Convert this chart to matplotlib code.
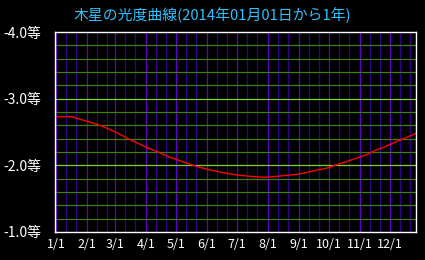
import matplotlib
matplotlib.use("Agg")
import matplotlib.pyplot as plt

plt.rcParams['font.family'] = ['Noto Sans CJK JP', 'DejaVu Sans']

title = "木星の光度曲線(2014年01月01日から1年)"
# day-of-year (0 = Jan 1) and magnitude
days = [0, 16, 22, 32, 42, 52, 62, 72, 82, 92, 102, 112, 122, 134, 144, 154,
        164, 174, 184, 194, 209, 221, 231, 241, 250, 260, 270, 280, 290, 300,
        310, 320, 330, 340, 350, 360]
mags = [-2.73, -2.73, -2.70, -2.656, -2.61, -2.55, -2.48, -2.40, -2.33, -2.26,
        -2.20, -2.13, -2.08, -2.015, -1.97, -1.93, -1.90, -1.87, -1.85, -1.835,
        -1.82, -1.835, -1.85, -1.865, -1.89, -1.925, -1.955, -2.005, -2.054,
        -2.105, -2.155, -2.23, -2.285, -2.355, -2.415, -2.48]
month_labels = ["1/1", "2/1", "3/1", "4/1", "5/1", "6/1", "7/1", "8/1",
                "9/1", "10/1", "11/1", "12/1"]
month_days = [0, 31, 59, 90, 120, 151, 181, 212, 243, 273, 304, 334]
y_ticks = [-4.0, -3.0, -2.0, -1.0]
y_labels = ["-4.0等", "-3.0等", "-2.0等", "-1.0等"]
minor_mags = [-3.8, -3.6, -3.4, -3.2, -2.8, -2.6, -2.4, -2.2, -1.8, -1.6, -1.4, -1.2]

fig = plt.figure(figsize=(4.25, 2.6), dpi=100, facecolor="black")
ax = fig.add_axes([55/425, 28/260, 361/425, 200/260], facecolor="black")
ax.set_xlim(-1, 360)
ax.set_ylim(-1.0, -4.0)

lw = 0.9
for md in month_days:
    ax.axvline(md, color="#6000d0", lw=lw, zorder=1.5)
    for off in (10, 20):
        ax.axvline(md + off, color="#320090", lw=lw, zorder=1.2)
for m in minor_mags:
    ax.axhline(m, color="#3f8000", lw=lw, zorder=2)
for m in y_ticks[1:-1]:
    ax.axhline(m, color="#80d020", lw=lw, zorder=2.1)

ax.plot(days, mags, color="#ff0000", lw=1.0, zorder=3)

for s in ax.spines.values():
    s.set_color("white")
    s.set_linewidth(1.0)
    s.set_zorder(4)

ax.set_xticks(month_days)
ax.set_xticklabels(month_labels, color="white", fontsize=9)
ax.set_yticks(y_ticks)
ax.set_yticklabels(y_labels, color="white", fontsize=10)
ax.tick_params(axis="y", length=0, pad=10)
ax.tick_params(axis="x", length=0, pad=4)

fig.text(212/425, 1 - 15/260, title, color="#30c0ff", fontsize=10.7,
         ha="center", va="center")

fig.savefig("out.png", dpi=100, facecolor="black")
